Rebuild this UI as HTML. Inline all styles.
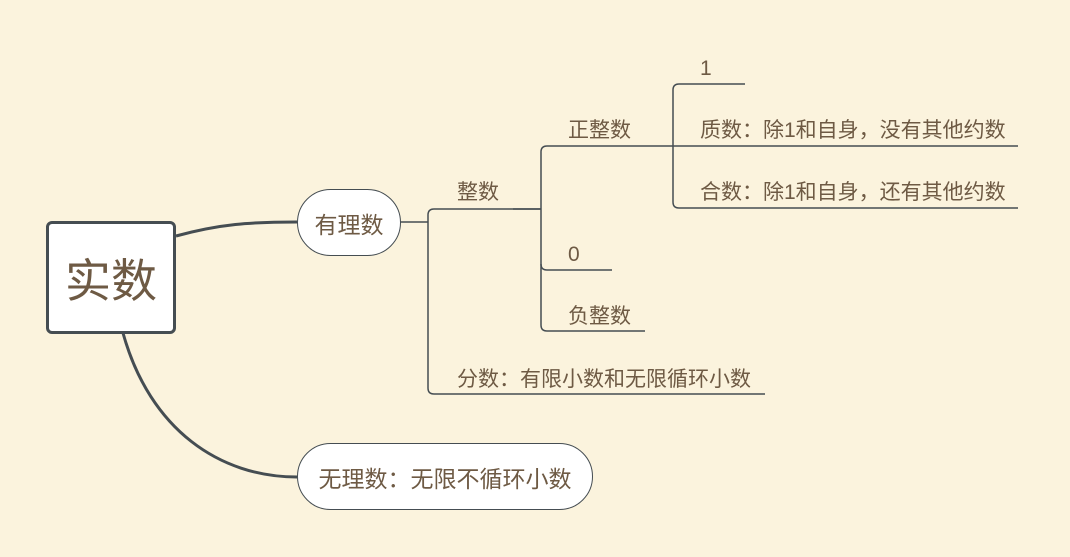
<!DOCTYPE html>
<html><head><meta charset="utf-8"><style>
html,body{margin:0;padding:0;}
body{width:1070px;height:557px;background:#fbf3dd;position:relative;overflow:hidden;font-family:"Liberation Sans","Noto Sans CJK SC",sans-serif;color:#6e5a44;}
.t{position:absolute;font-size:21px;white-space:nowrap;line-height:24px;}
.box{position:absolute;background:#fff;display:flex;align-items:center;justify-content:center;box-sizing:border-box;}
</style></head><body>
<svg width="1070" height="557" style="position:absolute;left:0;top:0" fill="none" stroke="#454d52">
<path d="M176 236 C220 224 250 222 297 222" stroke-width="3"/>
<path d="M123 333 C150 430 220 477 297 477" stroke-width="3"/>
<g stroke-width="1.5">
<path d="M400 222 H428"/>
<path d="M541 209 H434 Q428 209 428 215 V388 Q428 394 434 394 H765"/>
<path d="M513 209 H541"/>
<path d="M645 146 H547 Q541 146 541 152 V325 Q541 331 547 331 H645"/>
<path d="M541 264 Q541 270 547 270 H612"/>
<path d="M645 146 H673"/>
<path d="M745 84 H679 Q673 84 673 90 V202 Q673 208 679 208 H1018"/>
<path d="M673 146 H1018"/>
</g>
</svg>
<div class="box" style="left:46px;top:221px;width:130px;height:113px;border:3px solid #454d52;border-radius:6px;font-size:46px;">实数</div>
<div class="box" style="left:297px;top:189px;width:104px;height:67px;border:1px solid #454d52;border-radius:34px;font-size:23px;">有理数</div>
<div class="box" style="left:297px;top:443px;width:296px;height:67px;border:1px solid #454d52;border-radius:34px;font-size:23px;">无理数：无限不循环小数</div>
<div class="t" style="left:457px;top:181px">整数</div>
<div class="t" style="left:457px;top:368px">分数：有限小数和无限循环小数</div>
<div class="t" style="left:568px;top:119px">正整数</div>
<div class="t" style="left:568px;top:243px">0</div>
<div class="t" style="left:568px;top:305px">负整数</div>
<div class="t" style="left:700px;top:57px">1</div>
<div class="t" style="left:700px;top:119px">质数：除1和自身，没有其他约数</div>
<div class="t" style="left:700px;top:181px">合数：除1和自身，还有其他约数</div>
</body></html>
